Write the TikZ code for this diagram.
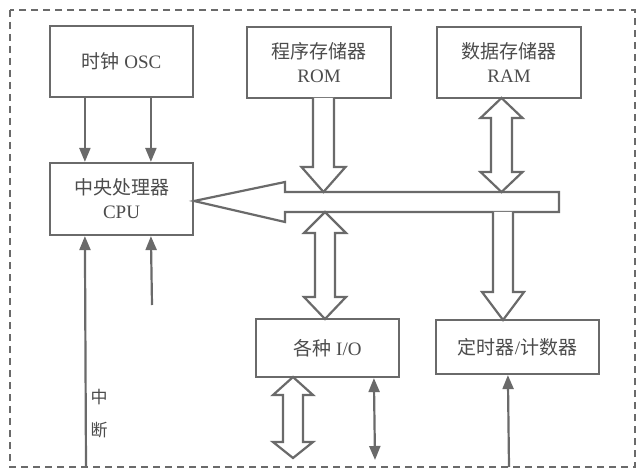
\documentclass[tikz,border=0pt]{standalone}
\usepackage{fontspec}
\setmainfont{Liberation Serif}
\newfontfamily\cjk{Noto Sans CJK SC}
\usetikzlibrary{arrows.meta}
\definecolor{ln}{HTML}{6A6A6A}
\definecolor{tx}{HTML}{4C4C4C}
\begin{document}
\begin{tikzpicture}[x=1pt,y=-1pt,
  box/.style={draw=ln,line width=2.2pt,fill=white,inner sep=0pt,align=center,text=tx,
    font=\fontsize{19}{24}\selectfont},
  arr/.style={draw=ln,line width=2.2pt,-{Triangle[length=14pt,width=11pt]}},
  arrtwo/.style={draw=ln,line width=2.2pt,{Triangle[length=14pt,width=11pt]}-{Triangle[length=14pt,width=11pt]}},
  hollow/.style={draw=ln,line width=2.2pt,fill=white,line join=miter},
  lbl/.style={text=tx,font=\fontsize{17}{33}\selectfont,align=center,inner sep=0pt}
]
\useasboundingbox (0,0) rectangle (639,470);
\fill[white] (0,0) rectangle (639,470);
\draw[ln,line width=1.5pt,dash pattern=on 7pt off 5pt] (10,10) rectangle (635,467);

% boxes
\node[box,minimum width=143pt,minimum height=71pt] (osc) at (121.5,61.5) {{\cjk 时钟} OSC};
\node[box,minimum width=144pt,minimum height=71pt] (rom) at (319,62.5) {{\cjk 程序存储器}\\ROM};
\node[box,minimum width=144pt,minimum height=71pt] (ram) at (509,62.5) {{\cjk 数据存储器}\\RAM};
\node[box,minimum width=143pt,minimum height=72pt] (cpu) at (121.5,199) {{\cjk 中央处理器}\\CPU};
\node[box,minimum width=143pt,minimum height=58pt] (io) at (327.5,348) {{\cjk 各种} I/O};
\node[box,minimum width=163pt,minimum height=54pt] (tim) at (517.5,347) {{\cjk 定时器}/{\cjk 计数器}};

% clock lines
\draw[arr] ([xshift=36pt]osc.south west) -- ([xshift=36pt]cpu.north west);
\draw[arr] ([xshift=102pt]osc.south west) -- ([xshift=102pt]cpu.north west);

% interrupt and other input into CPU
\coordinate (intsrc) at (86,467);
\coordinate (csrc) at (152,305);
\draw[arr] (intsrc) -- ([xshift=36pt]cpu.south west);
\draw[arr] (csrc) -- ([xshift=102pt]cpu.south west);
\node[lbl] (intlbl) at (99,414) {\cjk 中\\\cjk 断};

% bus arrow to CPU
\draw[hollow] (194,201) -- (285,182) -- (285,192) -- (559,192) -- (559,212)
  -- (285,212) -- (285,222) -- cycle;

% ROM -> bus
\draw[hollow] (313,98) -- (313,167) -- (301.5,167) -- (323.5,192) -- (345.5,167)
  -- (334,167) -- (334,98);
% RAM <-> bus
\draw[hollow] (501.5,98) -- (522.5,118) -- (512,118) -- (512,172) -- (522.5,172)
  -- (501.5,192) -- (480.5,172) -- (491,172) -- (491,118) -- (480.5,118) -- cycle;
% bus <-> I/O
\draw[hollow] (325,212) -- (346,233) -- (335,233) -- (335,297) -- (346,297)
  -- (325,319) -- (304,297) -- (315,297) -- (315,233) -- (304,233) -- cycle;
% bus -> timer
\draw[hollow] (493,212) -- (493,292) -- (482,292) -- (503,320) -- (524,292)
  -- (513,292) -- (513,212);
% I/O external
\draw[hollow] (293,377) -- (313,395) -- (303,395) -- (303,442) -- (313,442)
  -- (293,458) -- (273,442) -- (283,442) -- (283,395) -- (273,395) -- cycle;

\coordinate (ioext) at (375,460);
\draw[arrtwo] ([xshift=119pt]io.south west) -- (ioext);

\coordinate (timsrc) at (509,467);
\draw[arr] (timsrc) -- ([xshift=73pt]tim.south west);
\end{tikzpicture}
\end{document}
